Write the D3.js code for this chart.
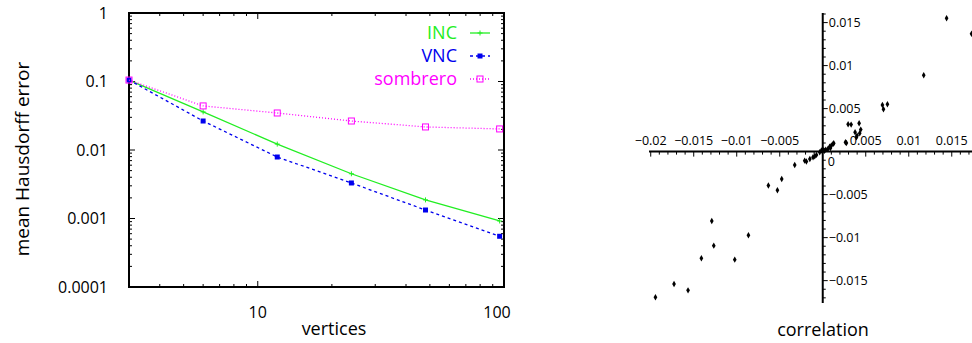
<!DOCTYPE html>
<html>
<head>
<meta charset="utf-8">
<script src="https://cdn.jsdelivr.net/npm/d3@7"></script>
<style>
  body { margin: 0; background: #fff; }
  svg { display: block; font-family: "Open Sans", sans-serif; }
</style>
</head>
<body>
<script>
// left chart data
var vertices = [3, 6, 12, 24, 48, 96];
var incErr = [0.105, 0.036, 0.0122, 0.0045, 0.00187, 0.00092];
var vncErr = [0.105, 0.0265, 0.0079, 0.0033, 0.00133, 0.00055];
var sombreroErr = [0.105, 0.044, 0.0347, 0.0265, 0.0217, 0.0203];
var yTickVals = [1, 0.1, 0.01, 0.001, 0.0001];
var yTickLabels = ["1", "0.1", "0.01", "0.001", "0.0001"];
var xTickVals = [10, 100];

// right chart data (correlation scatter)
var corrX = [0.0144, 0.0173, 0.01174, 0.00694, 0.00752, 0.00706, 0.00295, 0.0033, 0.00423, 0.00442,
  0.00376, 0.00399, 0.00392, 0.0043, 0.00264, 0.00275, 0.0012, 0.00128, 0.0009, 0.0006, 0.00035,
  0.00004, -0.00015, -0.00035, -0.00073, -0.00093, -0.00113, -0.0015, -0.0019, -0.0021, -0.00326,
  -0.00477, -0.00632, -0.00527, -0.0129, -0.00864, -0.01267, -0.01411, -0.01023, -0.01729,
  -0.01566, -0.01945, 0.0002, 0.0008, 0.001];
var corrY = [0.0155, 0.0137, 0.00887, 0.00543, 0.0055, 0.00492, 0.00318, 0.00314, 0.00329, 0.00256,
  0.00225, 0.00186, 0.00167, 0.00213, 0.00108, 0.00101, 0.0009, 0.00097, 0.00043, 0.0003, 0.00023,
  0.0002, 0.00012, -0.00008, -0.00038, -0.00055, -0.00066, -0.00085, -0.00116, -0.00105, -0.00155,
  -0.00318, -0.00395, -0.0045, -0.00806, -0.00973, -0.01093, -0.0124, -0.01256, -0.01539,
  -0.01613, -0.01694, 0.0001, 0.00058, 0.0007];
var corrTicks = [-0.02, -0.015, -0.01, -0.005, 0.005, 0.01, 0.015];

var svg = d3.select("body").append("svg")
  .attr("width", 972)
  .attr("height", 343);

// ---------- left: error vs vertices ----------
var x = d3.scaleLog().domain([3, 100]).range([129, 504]);
var y = d3.scaleLog().domain([0.0001, 1]).range([287, 13]);

var left = svg.append("g");

// minor + major ticks, mirrored on all sides, pointing inward
var yMinor = [];
for (var e = -4; e < 0; e++) {
  for (var m = 2; m <= 9; m++) yMinor.push(m * Math.pow(10, e));
}
var xMinor = [4, 5, 6, 7, 8, 9, 20, 30, 40, 50, 60, 70, 80, 90];

yMinor.forEach(function (v) {
  left.append("line").attr("x1", 129).attr("x2", 132).attr("y1", y(v)).attr("y2", y(v)).attr("stroke", "#000");
  left.append("line").attr("x1", 504).attr("x2", 501).attr("y1", y(v)).attr("y2", y(v)).attr("stroke", "#000");
});
yTickVals.forEach(function (v, i) {
  left.append("line").attr("x1", 129).attr("x2", 135).attr("y1", y(v)).attr("y2", y(v)).attr("stroke", "#000");
  left.append("line").attr("x1", 504).attr("x2", 498).attr("y1", y(v)).attr("y2", y(v)).attr("stroke", "#000");
  left.append("text")
    .attr("x", 108).attr("y", y(v))
    .attr("dy", "0.35em")
    .attr("text-anchor", "end")
    .attr("font-size", 16)
    .text(yTickLabels[i]);
});
xMinor.forEach(function (v) {
  left.append("line").attr("x1", x(v)).attr("x2", x(v)).attr("y1", 287).attr("y2", 284).attr("stroke", "#000");
  left.append("line").attr("x1", x(v)).attr("x2", x(v)).attr("y1", 13).attr("y2", 16).attr("stroke", "#000");
});
xTickVals.forEach(function (v) {
  left.append("line").attr("x1", x(v)).attr("x2", x(v)).attr("y1", 287).attr("y2", 281).attr("stroke", "#000");
  left.append("line").attr("x1", x(v)).attr("x2", x(v)).attr("y1", 13).attr("y2", 19).attr("stroke", "#000");
  left.append("text")
    .attr("x", v == 100 ? x(v) - 7 : x(v)).attr("y", 318)
    .attr("text-anchor", "middle")
    .attr("font-size", 16)
    .text(v);
});

left.append("rect")
  .attr("x", 129).attr("y", 13)
  .attr("width", 375).attr("height", 274)
  .attr("fill", "none").attr("stroke", "#000").attr("stroke-width", 2);

left.append("text")
  .attr("x", 334).attr("y", 335)
  .attr("text-anchor", "middle")
  .attr("font-size", 18)
  .text("vertices");

left.append("text")
  .attr("transform", "translate(29,159) rotate(-90)")
  .attr("text-anchor", "middle")
  .attr("font-size", 19)
  .text("mean Hausdorff error");

var line = d3.line()
  .x(function (d) { return x(d[0]); })
  .y(function (d) { return y(d[1]); });

var series = [
  { name: "INC", vals: incErr, color: "#22ee22", dash: null, mark: "plus" },
  { name: "VNC", vals: vncErr, color: "#0000ee", dash: "3,3", mark: "fsquare" },
  { name: "sombrero", vals: sombreroErr, color: "#ff00ff", dash: "1,2", mark: "osquare" }
];

function drawMark(g, mark, cx, cy, color) {
  if (mark == "plus") {
    g.append("path")
      .attr("d", "M" + (cx - 2.5) + "," + cy + "h5M" + cx + "," + (cy - 2.5) + "v5")
      .attr("stroke", color).attr("stroke-width", 1);
  } else if (mark == "fsquare") {
    g.append("rect").attr("x", cx - 2.5).attr("y", cy - 2.5).attr("width", 5).attr("height", 5)
      .attr("fill", color);
  } else {
    g.append("rect").attr("x", cx - 3).attr("y", cy - 3).attr("width", 6).attr("height", 6)
      .attr("fill", "none").attr("stroke", color).attr("stroke-width", 1);
  }
}

series.forEach(function (s, i) {
  var pts = vertices.map(function (v, j) { return [v, s.vals[j]]; });
  left.append("path")
    .datum(pts)
    .attr("d", line)
    .attr("fill", "none")
    .attr("stroke", s.color)
    .attr("stroke-width", 1.3)
    .attr("stroke-dasharray", s.dash);
  pts.forEach(function (p) { drawMark(left, s.mark, x(p[0]), y(p[1]), s.color); });

  // legend
  var ly = 33 + i * 23;
  left.append("text")
    .attr("x", 457).attr("y", ly)
    .attr("dy", "0.35em")
    .attr("text-anchor", "end")
    .attr("font-size", 18)
    .attr("fill", s.color)
    .text(s.name);
  left.append("line")
    .attr("x1", 470).attr("x2", 490).attr("y1", ly).attr("y2", ly)
    .attr("stroke", s.color).attr("stroke-width", 1.3)
    .attr("stroke-dasharray", s.dash);
  drawMark(left, s.mark, 480, ly, s.color);
});

// ---------- right: correlation scatter ----------
var cx = d3.scaleLinear().domain([-0.0202, 0.0174]).range([649, 972.4]);
var cy = d3.scaleLinear().domain([-0.0176, 0.016]).range([303, 14]);
var right = svg.append("g");
var ox = cx(0), oy = cy(0);

right.append("line").attr("x1", 649).attr("x2", 972).attr("y1", oy).attr("y2", oy)
  .attr("stroke", "#000").attr("stroke-width", 2);
right.append("line").attr("x1", ox).attr("x2", ox).attr("y1", 13).attr("y2", 303)
  .attr("stroke", "#000").attr("stroke-width", 2);

var fmt = function (v) { return (v < 0 ? "\u2212" : "") + String(+Math.abs(v).toFixed(3)); };

for (var k = -20; k <= 17; k++) {
  if (k == 0) continue;
  var major = k % 5 == 0;
  right.append("line")
    .attr("x1", cx(k / 1000)).attr("x2", cx(k / 1000))
    .attr("y1", oy).attr("y2", oy + (major ? 5 : 3))
    .attr("stroke", "#000");
}
for (var k = -17; k <= 16; k++) {
  if (k == 0) continue;
  var major = k % 5 == 0;
  right.append("line")
    .attr("x1", ox).attr("x2", ox + (major ? 5 : 3))
    .attr("y1", cy(k / 1000)).attr("y2", cy(k / 1000))
    .attr("stroke", "#000");
}

corrTicks.forEach(function (v) {
  right.append("text")
    .attr("x", cx(v)).attr("y", oy - 7)
    .attr("text-anchor", "middle")
    .attr("font-size", 12.5)
    .text(fmt(v));
});
corrTicks.filter(function (v) { return v > -0.02; }).forEach(function (v) {
  right.append("text")
    .attr("x", ox + 6).attr("y", cy(v))
    .attr("dy", "0.35em")
    .attr("font-size", 12.5)
    .text(fmt(v));
});
right.append("text")
  .attr("x", ox + 5).attr("y", oy + 14)
  .attr("font-size", 12.5)
  .text("0");

right.selectAll("path.pt")
  .data(corrX)
  .enter().append("path")
  .attr("class", "pt")
  .attr("transform", function (d, i) { return "translate(" + cx(d) + "," + cy(corrY[i]) + ")"; })
  .attr("d", d3.symbol().type(d3.symbolDiamond).size(12))
  .attr("fill", "#000");

right.append("text")
  .attr("x", 823).attr("y", 336)
  .attr("text-anchor", "middle")
  .attr("font-size", 18)
  .text("correlation");
</script>
</body>
</html>
